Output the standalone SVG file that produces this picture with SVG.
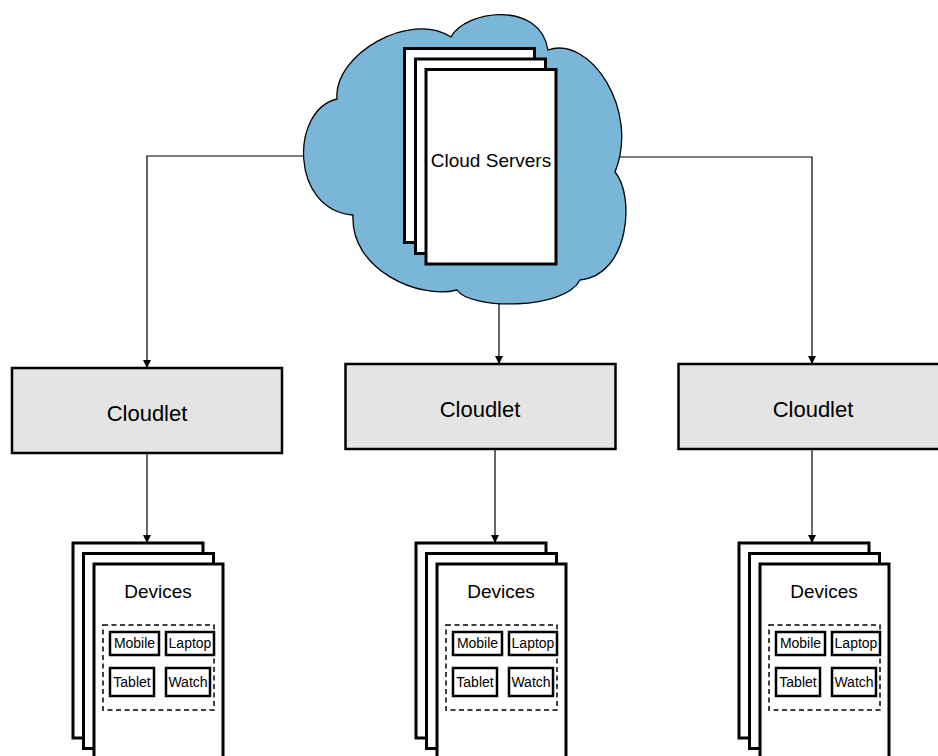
<svg xmlns="http://www.w3.org/2000/svg" width="938" height="756" viewBox="0 0 938 756">
  <style>
    .txt { font-family: "Liberation Sans", Arial, sans-serif; fill: #000; text-anchor: middle; dominant-baseline: central; }
    .page { fill: #fff; stroke: #000; stroke-width: 3; }
    .cloudlet { fill: #e4e4e4; stroke: #000; stroke-width: 2.5; }
    .item { fill: #fff; stroke: #000; stroke-width: 2.5; }
    .group { fill: none; stroke: #000; stroke-width: 1.5; stroke-dasharray: 5 3.5; }
    .link { fill: none; stroke: #000; stroke-width: 1.2; marker-end: url(#arrow); }
  </style>
  <defs>
    <marker id="arrow" viewBox="0 0 8 10" refX="8" refY="5" markerWidth="8" markerHeight="10" markerUnits="userSpaceOnUse" orient="auto">
      <path d="M0,1 L8,5 L0,9 Z" fill="#000"/>
    </marker>
    <g id="devices">
      <rect class="page" x="73" y="543" width="130" height="195"/>
      <rect class="page" x="83.5" y="553.5" width="130" height="195"/>
      <rect class="page" x="94" y="564" width="129" height="200"/>
      <text class="txt" x="158" y="591" font-size="19">Devices</text>
      <rect class="group" x="103" y="625" width="111" height="85"/>
      <rect class="item" x="110" y="632" width="49" height="23"/>
      <text class="txt" x="134.5" y="643" font-size="14">Mobile</text>
      <rect class="item" x="166" y="632" width="48" height="23"/>
      <text class="txt" x="190" y="643" font-size="14">Laptop</text>
      <rect class="item" x="110" y="668" width="44" height="28"/>
      <text class="txt" x="132" y="682" font-size="14">Tablet</text>
      <rect class="item" x="166" y="668" width="44" height="28"/>
      <text class="txt" x="188" y="682" font-size="14">Watch</text>
    </g>
  </defs>

  <g id="connectors">
    <path class="link" d="M310,156 H147 V368"/>
    <path class="link" d="M499,295 V364"/>
    <path class="link" d="M615,157 H812 V364"/>
    <path class="link" d="M147,453 V543"/>
    <path class="link" d="M495,449 V543"/>
    <path class="link" d="M812,449 V543"/>
  </g>

  <g id="cloud-servers">
    <path d="M337,99 C333,55 410,10 451,37 C465,10 540,0 548,50 C590,35 640,110 615,172 C635,195 630,275 580,280 C565,310 470,310 457,290 C420,300 350,270 353,215 C290,210 290,110 337,99 Z" fill="#79b6d8" stroke="#000" stroke-width="1.3"/>
    <rect class="page" x="404.5" y="48.5" width="130" height="194"/>
    <rect class="page" x="415.5" y="59" width="130" height="194.5"/>
    <rect class="page" x="426" y="69.5" width="130" height="194.5"/>
    <text class="txt" x="491" y="160" font-size="19">Cloud Servers</text>
  </g>

  <g id="cloudlet-left">
    <rect class="cloudlet" x="12" y="368" width="270" height="85"/>
    <text class="txt" x="147" y="413" font-size="22">Cloudlet</text>
  </g>
  <g id="cloudlet-middle">
    <rect class="cloudlet" x="345.5" y="364" width="270" height="85"/>
    <text class="txt" x="480" y="409" font-size="22">Cloudlet</text>
  </g>
  <g id="cloudlet-right">
    <rect class="cloudlet" x="678.5" y="364" width="270" height="85"/>
    <text class="txt" x="813" y="409" font-size="22">Cloudlet</text>
  </g>

  <g id="devices-left">
    <use href="#devices"/>
  </g>
  <g id="devices-middle">
    <use href="#devices" x="343"/>
  </g>
  <g id="devices-right">
    <use href="#devices" x="666"/>
  </g>
</svg>
